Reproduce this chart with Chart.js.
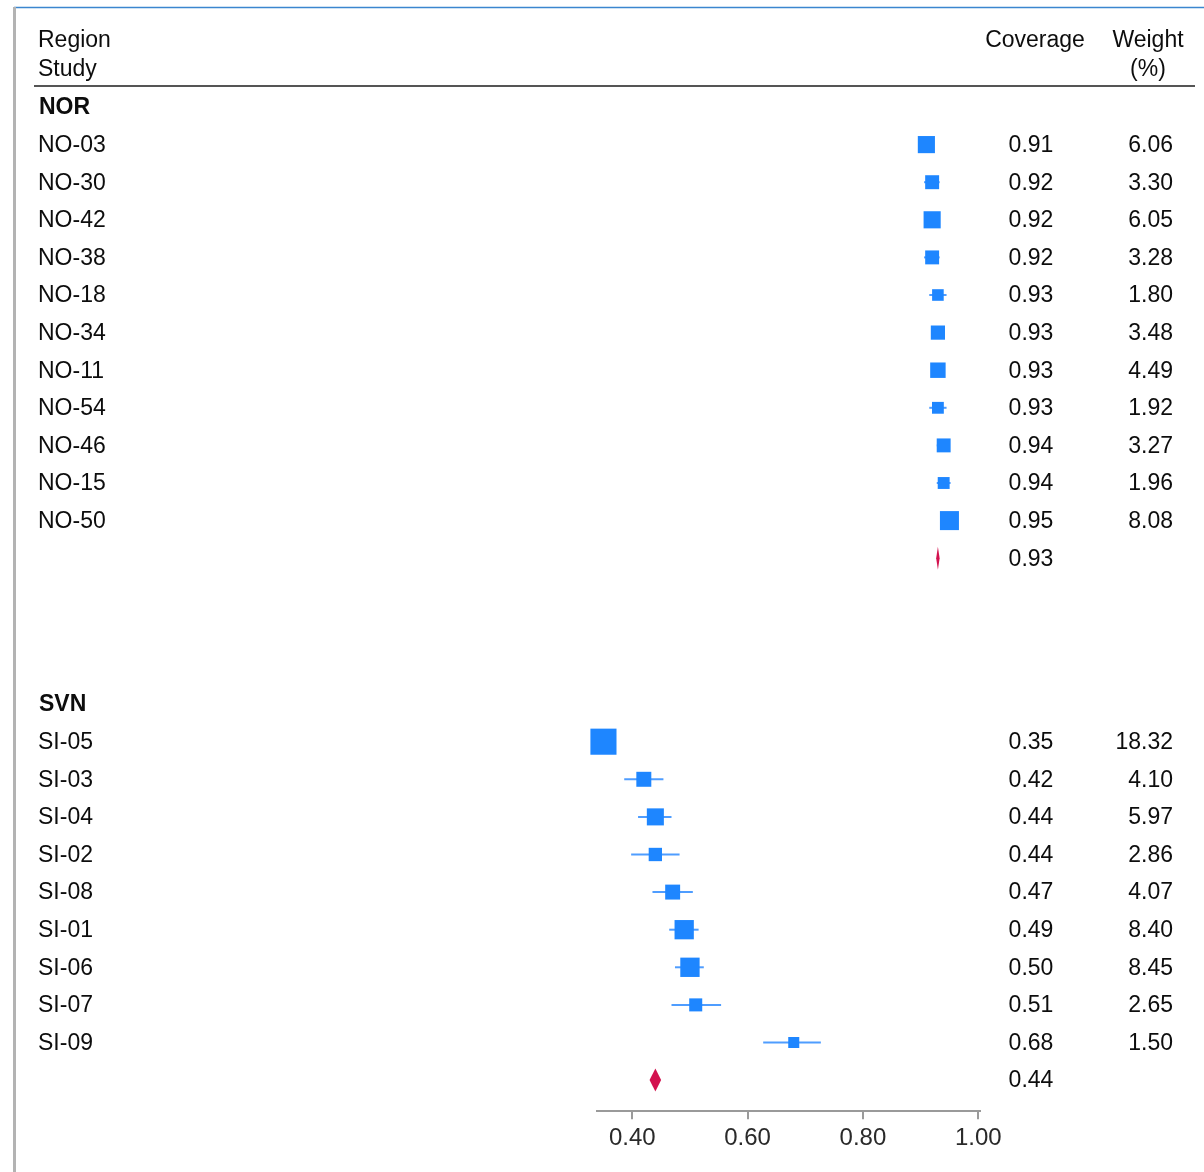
<!DOCTYPE html>
<html>
<head>
<meta charset="utf-8">
<script src="https://cdn.jsdelivr.net/npm/chart.js@4.4.1/dist/chart.umd.min.js"></script>
<style>
  html, body { margin: 0; padding: 0; background: #fff; }
  #wrap { width: 1204px; height: 1172px; }
</style>
</head>
<body>
<div id="wrap"><canvas id="forest" width="1204" height="1172"></canvas></div>
<script>
// ---- Norway studies ----
const norStudies  = ['NO-03','NO-30','NO-42','NO-38','NO-18','NO-34','NO-11','NO-54','NO-46','NO-15','NO-50'];
const norCoverage = [0.91, 0.92, 0.92, 0.92, 0.93, 0.93, 0.93, 0.93, 0.94, 0.94, 0.95];
const norLower    = [0.898, 0.906, 0.908, 0.906, 0.915, 0.918, 0.918, 0.915, 0.928, 0.928, 0.940];
const norUpper    = [0.922, 0.933, 0.932, 0.933, 0.945, 0.942, 0.942, 0.945, 0.951, 0.952, 0.960];
const norWeight   = [6.06, 3.30, 6.05, 3.28, 1.80, 3.48, 4.49, 1.92, 3.27, 1.96, 8.08];
const norPooled   = [0.927, 0.93, 0.933];   // lower, estimate, upper

// ---- Slovenia studies ----
const svnStudies  = ['SI-05','SI-03','SI-04','SI-02','SI-08','SI-01','SI-06','SI-07','SI-09'];
const svnCoverage = [0.35, 0.42, 0.44, 0.44, 0.47, 0.49, 0.50, 0.51, 0.68];
const svnLower    = [0.335, 0.386, 0.410, 0.398, 0.435, 0.464, 0.474, 0.468, 0.627];
const svnUpper    = [0.365, 0.454, 0.468, 0.482, 0.505, 0.515, 0.524, 0.554, 0.727];
const svnWeight   = [18.32, 4.10, 5.97, 2.86, 4.07, 8.40, 8.45, 2.65, 1.50];
const svnPooled   = [0.430, 0.44, 0.450];

// ---- axis ----
const tickValues = [0.40, 0.60, 0.80, 1.00];

const FONT = '"Liberation Sans", Arial, Helvetica, sans-serif';
const ROW_PX = 37.6;          // vertical distance between table rows
const FIRST_ROW_PX = 107;     // pixel centre of the first group header

const groups = [
  { label: 'NOR', start: 0,     studies: norStudies, cov: norCoverage, lo: norLower, hi: norUpper, w: norWeight, pooled: norPooled },
  { label: 'SVN', start: 15.88, studies: svnStudies, cov: svnCoverage, lo: svnLower, hi: svnUpper, w: svnWeight, pooled: svnPooled }
];

const BLUE = '#1e86ff';
const CI_BLUE = '#4f9dff';
const DIAMOND = '#d3124f';

// study squares: side grows with the square root of the weight
const sidePx = w => 5 + 4.93 * Math.sqrt(w);

const squarePoints = [], squareRadii = [], ciSets = [];
groups.forEach(g => {
  g.studies.forEach((s, i) => {
    const row = g.start + 1 + i;
    squarePoints.push({ x: g.cov[i], y: row });
    squareRadii.push(sidePx(g.w[i]) / Math.SQRT2);
    ciSets.push({
      type: 'line',
      data: [{ x: g.lo[i], y: row }, { x: g.hi[i], y: row }],
      showLine: true,
      borderColor: CI_BLUE,
      borderWidth: 2,
      pointRadius: 0,
      clip: false,
      order: 2
    });
  });
});

// page frame and header rule
const framePlugin = {
  id: 'frame',
  beforeDraw(chart) {
    const { ctx } = chart;
    ctx.save();
    ctx.fillStyle = '#fff';
    ctx.fillRect(0, 0, chart.width, chart.height);
    ctx.strokeStyle = '#3b86cf';
    ctx.lineWidth = 1.5;
    ctx.beginPath(); ctx.moveTo(14, 7.5); ctx.lineTo(1204, 7.5); ctx.stroke();
    ctx.strokeStyle = '#b3b3b3';
    ctx.lineWidth = 3;
    ctx.beginPath(); ctx.moveTo(14.5, 7); ctx.lineTo(14.5, 1172); ctx.stroke();
    ctx.strokeStyle = '#555';
    ctx.lineWidth = 2;
    ctx.beginPath(); ctx.moveTo(34, 86); ctx.lineTo(1195, 86); ctx.stroke();
    ctx.restore();
  }
};

// pooled estimates as diamonds
const diamondPlugin = {
  id: 'diamonds',
  afterDatasetsDraw(chart) {
    const { ctx, scales: { x, y } } = chart;
    ctx.save();
    ctx.fillStyle = DIAMOND;
    groups.forEach(g => {
      const py = y.getPixelForValue(g.start + 1 + g.studies.length);
      const xl = x.getPixelForValue(g.pooled[0]);
      const xm = x.getPixelForValue(g.pooled[1]);
      const xr = x.getPixelForValue(g.pooled[2]);
      const h = 11.5;
      ctx.beginPath();
      ctx.moveTo(xl, py);
      ctx.lineTo(xm, py - h);
      ctx.lineTo(xr, py);
      ctx.lineTo(xm, py + h);
      ctx.closePath();
      ctx.fill();
    });
    ctx.restore();
  }
};

// table columns: study names, coverage and weight
const tablePlugin = {
  id: 'table',
  afterDraw(chart) {
    const { ctx, scales: { y } } = chart;
    const reg = `23px ${FONT}`, bold = `bold 23px ${FONT}`;
    ctx.save();
    ctx.fillStyle = '#0d0d0d';
    ctx.textBaseline = 'middle';
    ctx.font = reg;
    ctx.textAlign = 'left';
    ctx.fillText('Region', 38, 41);
    ctx.fillText('Study', 38, 70);
    ctx.textAlign = 'center';
    ctx.fillText('Coverage', 1035, 41);
    ctx.fillText('Weight', 1148, 41);
    ctx.fillText('(%)', 1148, 70);

    groups.forEach(g => {
      ctx.font = bold;
      ctx.textAlign = 'left';
      ctx.fillText(g.label, 39, y.getPixelForValue(g.start) + 1);
      ctx.font = reg;
      g.studies.forEach((s, i) => {
        const py = y.getPixelForValue(g.start + 1 + i) + 1;
        ctx.textAlign = 'left';
        ctx.fillText(s, 38, py);
        ctx.textAlign = 'center';
        ctx.fillText(g.cov[i].toFixed(2), 1031, py);
        ctx.textAlign = 'right';
        ctx.fillText(g.w[i].toFixed(2), 1173, py);
      });
      const pp = y.getPixelForValue(g.start + 1 + g.studies.length) + 1;
      ctx.textAlign = 'center';
      ctx.fillText(g.pooled[1].toFixed(2), 1031, pp);
    });
    ctx.restore();
  }
};

const chart = new Chart(document.getElementById('forest'), {
  type: 'scatter',
  data: {
    datasets: [
      {
        data: squarePoints,
        pointStyle: 'rect',
        pointRadius: squareRadii,
        pointHoverRadius: squareRadii,
        pointBackgroundColor: BLUE,
        pointBorderWidth: 0,
        clip: false,
        order: 0
      },
      ...ciSets
    ]
  },
  options: {
    responsive: false,
    animation: false,
    events: [],
    layout: { padding: { left: 597, right: 224, top: 0, bottom: 14 } },
    plugins: { legend: { display: false }, tooltip: { enabled: false } },
    scales: {
      x: {
        type: 'linear',
        min: 0.3388,
        max: 1.003,
        afterBuildTicks: s => { s.ticks = tickValues.map(v => ({ value: v })); },
        border: { display: true, color: '#9a9a9a', width: 2 },
        grid: { display: true, drawOnChartArea: false, drawTicks: true, tickLength: 8, color: '#9a9a9a', lineWidth: 2 },
        ticks: {
          font: { family: FONT, size: 24 },
          color: '#2a2a2a',
          padding: 5,
          maxRotation: 0,
          autoSkip: false,
          callback: v => Number(v).toFixed(2)
        }
      },
      y: {
        type: 'linear',
        display: false,
        reverse: true,
        min: 0,
        max: 1
      }
    }
  },
  plugins: [framePlugin, diamondPlugin, tablePlugin]
});

// map the row index onto pixels: row r sits at FIRST_ROW_PX + r * ROW_PX
const area = chart.chartArea;
chart.options.scales.y.min = (area.top - FIRST_ROW_PX) / ROW_PX;
chart.options.scales.y.max = (area.bottom - FIRST_ROW_PX) / ROW_PX;
chart.update('none');
</script>
</body>
</html>
